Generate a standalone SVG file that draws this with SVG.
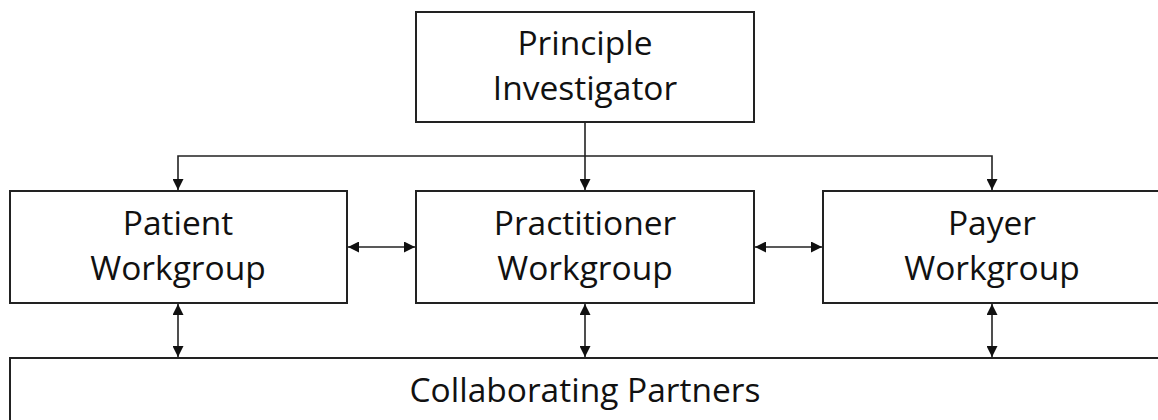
<svg xmlns="http://www.w3.org/2000/svg" width="1158" height="420" viewBox="0 0 1158 420">
<style>
.box{fill:#fff;stroke:#222;stroke-width:2}
.t{font-family:"Open Sans","Liberation Sans",sans-serif;font-size:33.5px;fill:#111;text-anchor:middle}
.c{fill:none;stroke:#222;stroke-width:1.6}
</style>
<defs>
<marker id="ah" viewBox="0 0 10 10" refX="10" refY="5" markerWidth="11" markerHeight="11" markerUnits="userSpaceOnUse" orient="auto-start-reverse">
<path d="M0,0 L10,5 L0,10 Z" fill="#111"/>
</marker>
</defs>
<rect width="1158" height="420" fill="#fff"/>
<g id="pi">
<rect class="box" x="416" y="12" width="338" height="110"/>
<text class="t" x="585" y="55">Principle</text>
<text class="t" x="585" y="100">Investigator</text>
</g>
<g id="patient">
<rect class="box" x="10" y="191" width="337" height="112"/>
<text class="t" x="178" y="235">Patient</text>
<text class="t" x="178" y="280">Workgroup</text>
</g>
<g id="practitioner">
<rect class="box" x="416" y="191" width="338" height="112"/>
<text class="t" x="585" y="235">Practitioner</text>
<text class="t" x="585" y="280">Workgroup</text>
</g>
<g id="payer">
<rect class="box" x="823" y="191" width="345" height="112"/>
<text class="t" x="992" y="235">Payer</text>
<text class="t" x="992" y="280">Workgroup</text>
</g>
<g id="partners">
<rect class="box" x="10" y="358" width="1160" height="80"/>
<text class="t" x="585" y="402">Collaborating Partners</text>
</g>
<g id="connectors">
<line class="c" x1="585" y1="122" x2="585" y2="190" marker-end="url(#ah)"/>
<path class="c" d="M585,156 H178 V190" marker-end="url(#ah)"/>
<path class="c" d="M585,156 H992 V190" marker-end="url(#ah)"/>
<line class="c" x1="348" y1="247" x2="415" y2="247" marker-start="url(#ah)" marker-end="url(#ah)"/>
<line class="c" x1="755" y1="247" x2="822" y2="247" marker-start="url(#ah)" marker-end="url(#ah)"/>
<line class="c" x1="178" y1="304" x2="178" y2="357" marker-start="url(#ah)" marker-end="url(#ah)"/>
<line class="c" x1="585" y1="304" x2="585" y2="357" marker-start="url(#ah)" marker-end="url(#ah)"/>
<line class="c" x1="992" y1="304" x2="992" y2="357" marker-start="url(#ah)" marker-end="url(#ah)"/>
</g>
</svg>
